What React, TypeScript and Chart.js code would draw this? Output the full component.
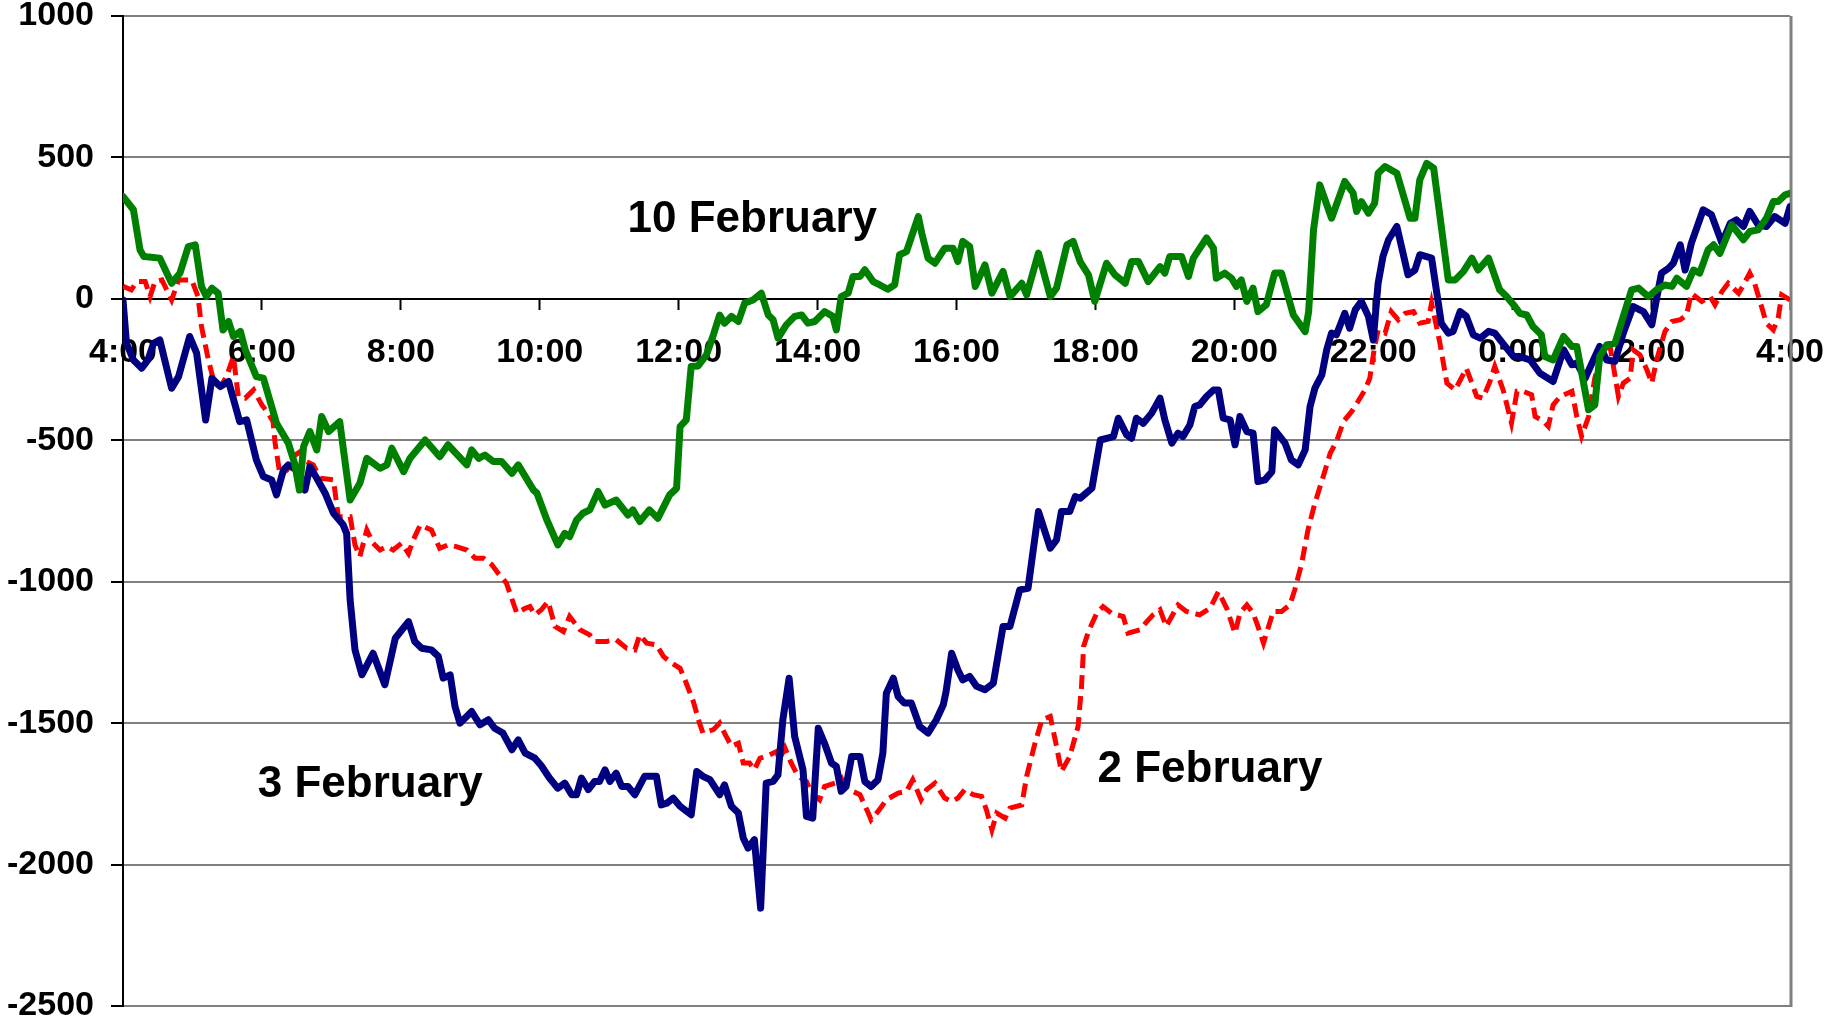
import React, { useEffect, useRef } from "react";
import { Chart, registerables } from "chart.js";

Chart.register(...registerables);

const xTickLabels = ["4:00", "6:00", "8:00", "10:00", "12:00", "14:00", "16:00", "18:00", "20:00", "22:00", "0:00", "2:00", "4:00"];
const seriesNames = ["10 February", "3 February", "2 February"];

// hours elapsed since 4:00
const feb10Times = [0, 0.15, 0.245, 0.3, 0.53, 0.7, 0.82, 0.94, 1.04, 1.13, 1.2, 1.28, 1.37, 1.44, 1.52, 1.59, 1.69, 1.76, 1.92, 2.02, 2.21, 2.38, 2.47, 2.54, 2.6, 2.69, 2.79, 2.86, 2.96, 3.12, 3.27, 3.41, 3.51, 3.7, 3.8, 3.87, 4.04, 4.13, 4.35, 4.56, 4.68, 4.95, 5.02, 5.12, 5.21, 5.33, 5.45, 5.6, 5.69, 5.91, 5.96, 6.1, 6.26, 6.36, 6.43, 6.53, 6.62, 6.72, 6.84, 6.94, 7.1, 7.27, 7.34, 7.44, 7.58, 7.7, 7.87, 7.97, 8.02, 8.11, 8.18, 8.28, 8.4, 8.5, 8.59, 8.66, 8.76, 8.86, 8.95, 9.07, 9.19, 9.29, 9.36, 9.43, 9.55, 9.67, 9.77, 9.86, 9.96, 10.1, 10.22, 10.27, 10.34, 10.44, 10.51, 10.61, 10.68, 10.8, 10.89, 11.01, 11.11, 11.18, 11.28, 11.45, 11.5, 11.59, 11.69, 11.83, 11.95, 12.02, 12.09, 12.19, 12.27, 12.41, 12.51, 12.67, 12.77, 12.94, 13.01, 13.18, 13.35, 13.44, 13.59, 13.68, 13.78, 13.9, 13.99, 14.16, 14.28, 14.43, 14.52, 14.62, 14.76, 14.93, 15.0, 15.07, 15.24, 15.34, 15.41, 15.6, 15.7, 15.74, 15.86, 15.96, 16.03, 16.1, 16.18, 16.27, 16.34, 16.46, 16.58, 16.68, 16.85, 17.02, 17.07, 17.14, 17.23, 17.4, 17.59, 17.71, 17.76, 17.83, 17.93, 18.02, 18.07, 18.17, 18.34, 18.53, 18.6, 18.67, 18.77, 18.87, 19.08, 19.18, 19.3, 19.42, 19.51, 19.66, 19.82, 19.92, 20.04, 20.11, 20.21, 20.3, 20.42, 20.47, 20.59, 20.74, 20.86, 20.93, 21.1, 21.19, 21.26, 21.36, 21.48, 21.6, 21.72, 21.82, 21.96, 22.08, 22.2, 22.3, 22.37, 22.51, 22.61, 22.7, 22.82, 22.9, 22.99, 23.16, 23.33, 23.42, 23.54, 23.66, 23.76, 23.83, 23.93, 24];
const feb10Values = [362, 315, 173, 150, 144, 55, 91, 185, 191, 44, 8, 38, 20, -110, -80, -133, -115, -180, -275, -280, -440, -510, -581, -676, -522, -469, -534, -416, -469, -434, -711, -652, -564, -599, -587, -528, -611, -564, -499, -558, -516, -587, -534, -564, -552, -575, -575, -617, -587, -676, -687, -780, -870, -829, -841, -782, -758, -746, -681, -729, -711, -764, -746, -787, -746, -776, -693, -670, -452, -428, -239, -237, -198, -127, -57, -86, -62, -80, -15, -4, 20, -57, -74, -139, -92, -62, -57, -86, -80, -45, -62, -110, 8, 20, 79, 79, 103, 61, 50, 34, 50, 156, 167, 291, 232, 144, 126, 179, 179, 132, 203, 185, 44, 120, 20, 97, 8, 55, 14, 162, 8, 38, 191, 203, 132, 85, -9, 126, 85, 55, 132, 132, 61, 114, 91, 150, 150, 79, 144, 215, 179, 73, 91, 73, 44, 67, -9, 38, -45, -21, 91, 91, -57, -116, -45, 244, 403, 285, 415, 374, 309, 344, 303, 338, 444, 468, 444, 285, 285, 421, 479, 462, 67, 67, 97, 144, 102, 144, 32, 8, -27, -51, -57, -98, -127, -204, -216, -133, -168, -168, -392, -375, -204, -163, -157, -62, 32, 38, 8, 32, 49, 44, 73, 44, 102, 91, 173, 191, 161, 262, 209, 238, 244, 285, 344, 344, 368, 373];

const feb3Times = [0, 0.05, 0.15, 0.27, 0.36, 0.44, 0.53, 0.7, 0.8, 0.96, 1.06, 1.19, 1.28, 1.4, 1.52, 1.68, 1.78, 1.92, 2.02, 2.14, 2.21, 2.31, 2.38, 2.5, 2.62, 2.69, 2.79, 2.91, 3.03, 3.17, 3.22, 3.27, 3.34, 3.44, 3.6, 3.77, 3.92, 4.11, 4.2, 4.3, 4.44, 4.54, 4.61, 4.71, 4.78, 4.85, 5.02, 5.14, 5.26, 5.35, 5.47, 5.6, 5.69, 5.79, 5.93, 6.02, 6.14, 6.26, 6.36, 6.46, 6.53, 6.6, 6.7, 6.79, 6.86, 6.94, 7.01, 7.1, 7.18, 7.27, 7.37, 7.51, 7.68, 7.75, 7.83, 7.92, 8.02, 8.18, 8.26, 8.35, 8.45, 8.59, 8.66, 8.76, 8.86, 8.93, 9.0, 9.09, 9.18, 9.26, 9.36, 9.43, 9.5, 9.59, 9.67, 9.79, 9.84, 9.93, 10.01, 10.1, 10.2, 10.27, 10.34, 10.41, 10.49, 10.61, 10.68, 10.77, 10.87, 10.94, 10.99, 11.09, 11.16, 11.25, 11.35, 11.47, 11.59, 11.71, 11.81, 11.85, 11.93, 12.02, 12.09, 12.19, 12.29, 12.41, 12.53, 12.67, 12.77, 12.91, 13.03, 13.18, 13.35, 13.44, 13.51, 13.63, 13.71, 13.78, 13.95, 14.07, 14.26, 14.33, 14.45, 14.52, 14.59, 14.69, 14.81, 14.93, 15.0, 15.1, 15.19, 15.26, 15.36, 15.43, 15.5, 15.6, 15.7, 15.77, 15.84, 15.94, 16.01, 16.08, 16.18, 16.27, 16.34, 16.44, 16.54, 16.58, 16.73, 16.82, 16.92, 17.02, 17.09, 17.16, 17.26, 17.33, 17.4, 17.47, 17.59, 17.66, 17.74, 17.83, 17.93, 18.0, 18.07, 18.14, 18.22, 18.34, 18.5, 18.6, 18.67, 18.84, 18.98, 19.08, 19.15, 19.25, 19.34, 19.44, 19.54, 19.66, 19.75, 19.9, 20.02, 20.11, 20.26, 20.4, 20.59, 20.74, 20.86, 20.93, 21.05, 21.17, 21.26, 21.36, 21.48, 21.6, 21.74, 21.89, 22.01, 22.08, 22.15, 22.25, 22.32, 22.42, 22.49, 22.58, 22.75, 22.87, 23.02, 23.14, 23.23, 23.33, 23.42, 23.54, 23.66, 23.78, 23.93, 24];
const feb3Values = [-4, -157, -216, -245, -216, -157, -145, -316, -275, -133, -192, -428, -281, -310, -292, -434, -428, -569, -628, -640, -693, -605, -587, -605, -676, -593, -634, -687, -758, -799, -830, -1064, -1241, -1329, -1253, -1364, -1200, -1141, -1211, -1235, -1241, -1264, -1341, -1329, -1441, -1500, -1459, -1506, -1488, -1518, -1535, -1594, -1559, -1606, -1624, -1650, -1694, -1730, -1712, -1753, -1753, -1694, -1735, -1706, -1706, -1665, -1706, -1677, -1724, -1724, -1753, -1688, -1688, -1789, -1783, -1765, -1794, -1824, -1671, -1688, -1700, -1753, -1718, -1794, -1818, -1906, -1942, -1912, -2154, -1712, -1706, -1683, -1488, -1341, -1547, -1665, -1830, -1836, -1518, -1571, -1641, -1653, -1741, -1724, -1618, -1618, -1706, -1724, -1700, -1606, -1394, -1341, -1406, -1429, -1429, -1512, -1535, -1488, -1435, -1388, -1253, -1312, -1347, -1335, -1370, -1382, -1359, -1158, -1158, -1029, -1023, -752, -881, -852, -752, -752, -699, -705, -669, -499, -487, -422, -481, -493, -422, -440, -404, -351, -428, -510, -475, -487, -446, -381, -375, -345, -322, -322, -422, -428, -516, -416, -469, -475, -646, -640, -611, -463, -510, -569, -587, -534, -381, -316, -269, -180, -121, -127, -51, -104, -39, -9, -62, -145, 55, 150, 209, 256, 85, 102, 156, 144, -86, -121, -115, -45, -62, -127, -139, -115, -121, -168, -204, -204, -216, -263, -292, -180, -233, -227, -281, -216, -168, -216, -221, -121, -27, -45, -92, 2, 91, 108, 126, 191, 102, 197, 315, 297, 197, 267, 279, 256, 309, 262, 256, 291, 267, 326];

const feb2Times = [0, 0.12, 0.2, 0.32, 0.39, 0.46, 0.56, 0.7, 0.8, 0.99, 1.08, 1.13, 1.23, 1.32, 1.42, 1.49, 1.59, 1.66, 1.76, 1.88, 2.0, 2.09, 2.16, 2.19, 2.26, 2.36, 2.45, 2.55, 2.64, 2.74, 2.84, 3.03, 3.1, 3.27, 3.34, 3.41, 3.51, 3.6, 3.7, 3.8, 3.89, 4.01, 4.11, 4.18, 4.28, 4.44, 4.56, 4.68, 4.8, 4.95, 5.07, 5.19, 5.31, 5.4, 5.52, 5.62, 5.67, 5.79, 5.86, 5.93, 6.02, 6.12, 6.22, 6.34, 6.43, 6.58, 6.72, 6.79, 6.96, 7.1, 7.25, 7.37, 7.44, 7.54, 7.68, 7.78, 7.9, 8.02, 8.11, 8.21, 8.3, 8.35, 8.5, 8.59, 8.66, 8.76, 8.86, 8.93, 9.02, 9.09, 9.17, 9.31, 9.41, 9.45, 9.53, 9.62, 9.72, 9.84, 9.91, 10.03, 10.1, 10.25, 10.34, 10.41, 10.61, 10.73, 10.77, 10.89, 10.99, 11.16, 11.28, 11.37, 11.49, 11.57, 11.69, 11.83, 11.93, 12.02, 12.12, 12.24, 12.36, 12.43, 12.51, 12.58, 12.7, 12.77, 12.94, 13.01, 13.13, 13.23, 13.35, 13.44, 13.51, 13.63, 13.75, 13.8, 13.83, 13.9, 14.02, 14.11, 14.23, 14.4, 14.47, 14.64, 14.74, 14.83, 14.93, 15.02, 15.19, 15.31, 15.5, 15.65, 15.77, 15.89, 16.01, 16.08, 16.18, 16.27, 16.34, 16.42, 16.56, 16.68, 16.8, 16.87, 16.97, 17.06, 17.16, 17.28, 17.38, 17.47, 17.57, 17.69, 17.78, 17.88, 17.95, 18.02, 18.07, 18.17, 18.26, 18.36, 18.46, 18.58, 18.67, 18.79, 18.84, 18.96, 19.06, 19.18, 19.34, 19.49, 19.58, 19.68, 19.75, 19.87, 19.99, 20.07, 20.16, 20.28, 20.33, 20.45, 20.52, 20.59, 20.69, 20.86, 20.93, 21.0, 21.1, 21.19, 21.29, 21.41, 21.53, 21.6, 21.7, 21.74, 21.84, 21.94, 22.01, 22.08, 22.2, 22.3, 22.42, 22.51, 22.58, 22.73, 22.85, 22.92, 23.02, 23.11, 23.26, 23.33, 23.42, 23.49, 23.59, 23.66, 23.76, 23.83, 23.88, 24];
const feb2Values = [44, 32, 61, 61, 8, 61, 67, -4, 67, 67, 8, -98, -216, -304, -304, -275, -204, -345, -351, -322, -375, -404, -434, -510, -622, -605, -558, -540, -575, -587, -634, -640, -770, -770, -870, -911, -817, -864, -888, -876, -888, -864, -900, -852, -799, -817, -882, -870, -876, -888, -917, -917, -940, -970, -1005, -1076, -1111, -1094, -1088, -1117, -1100, -1070, -1158, -1176, -1123, -1170, -1188, -1211, -1211, -1205, -1235, -1241, -1188, -1217, -1223, -1264, -1288, -1306, -1359, -1423, -1500, -1535, -1523, -1500, -1535, -1582, -1571, -1641, -1641, -1665, -1624, -1612, -1600, -1630, -1588, -1641, -1688, -1706, -1747, -1771, -1724, -1712, -1694, -1730, -1753, -1818, -1842, -1806, -1771, -1747, -1741, -1700, -1771, -1735, -1712, -1765, -1777, -1765, -1735, -1753, -1759, -1806, -1877, -1818, -1836, -1800, -1789, -1688, -1571, -1488, -1476, -1582, -1671, -1618, -1512, -1370, -1229, -1176, -1111, -1088, -1111, -1123, -1182, -1170, -1141, -1117, -1099, -1158, -1082, -1105, -1117, -1094, -1035, -1094, -1182, -1111, -1082, -1111, -1158, -1217, -1105, -1105, -1082, -1029, -935, -817, -722, -628, -546, -505, -434, -398, -363, -322, -281, -169, -110, -121, -45, -74, -51, -45, -86, -80, -15, -157, -298, -322, -245, -345, -351, -292, -239, -322, -439, -327, -327, -339, -416, -433, -451, -375, -345, -327, -416, -486, -416, -280, -192, -168, -345, -298, -280, -180, -198, -251, -298, -216, -115, -80, -74, -57, 20, -9, 8, -21, 26, 55, 20, 49, 91, 55, -27, -86, -110, -68, 14, -4];

const FONT = '"Liberation Sans", Arial, Helvetica, sans-serif';

function toPoints(times: number[], values: number[]) {
  return times.map((t, i) => ({ x: t, y: values[i] }));
}

const seriesLabelPlugin = {
  id: "seriesLabels",
  afterDatasetsDraw(chart: any) {
    const { ctx, scales } = chart;
    const x = scales.x;
    const y = scales.y;
    const anchors = [
      [9.06, 237],
      [3.56, -1760],
      [15.65, -1707],
    ];
    ctx.save();
    ctx.font = `bold 44px ${FONT}`;
    ctx.fillStyle = "#000000";
    ctx.textAlign = "center";
    ctx.textBaseline = "alphabetic";
    seriesNames.forEach((name, i) => {
      ctx.fillText(name, x.getPixelForValue(anchors[i][0]), y.getPixelForValue(anchors[i][1]));
    });
    ctx.restore();
  },
};

const frameBorderPlugin = {
  id: "frameBorder",
  beforeDatasetsDraw(chart: any) {
    const { ctx, chartArea } = chart;
    ctx.save();
    ctx.strokeStyle = "#808080";
    ctx.lineWidth = 3;
    ctx.beginPath();
    ctx.moveTo(chartArea.right + 1, chartArea.top);
    ctx.lineTo(chartArea.right + 1, chartArea.bottom + 1);
    ctx.stroke();
    ctx.restore();
  },
};

export default function App() {
  const ref = useRef<HTMLCanvasElement>(null);

  useEffect(() => {
    document.body.style.margin = "0";
    const canvas = ref.current;
    if (!canvas) return;
    const chart = new Chart(canvas, {
      type: "line",
      data: {
        datasets: [
          {
            label: seriesNames[0],
            data: toPoints(feb10Times, feb10Values),
            borderColor: "#008000",
            borderWidth: 7,
            pointRadius: 0,
            tension: 0,
            borderJoinStyle: "round",
            borderCapStyle: "round",
            fill: false,
          },
          {
            label: seriesNames[1],
            data: toPoints(feb3Times, feb3Values),
            borderColor: "#000080",
            borderWidth: 7,
            pointRadius: 0,
            tension: 0,
            borderJoinStyle: "round",
            borderCapStyle: "round",
            fill: false,
          },
          {
            label: seriesNames[2],
            data: toPoints(feb2Times, feb2Values),
            borderColor: "#FF0000",
            borderWidth: 5,
            borderDash: [14, 7],
            pointRadius: 0,
            tension: 0,
            fill: false,
          },
        ],
      },
      options: {
        animation: false,
        responsive: true,
        maintainAspectRatio: false,
        layout: { padding: { top: 16, bottom: 16, left: 0, right: 37 } },
        plugins: {
          legend: { display: false },
          tooltip: { enabled: false },
        },
        scales: {
          x: {
            type: "linear",
            min: 0,
            max: 24,
            position: { y: 0 } as any,
            ticks: {
              stepSize: 2,
              autoSkip: false,
              maxRotation: 0,
              minRotation: 0,
              padding: 23,
              color: "#000000",
              font: { family: FONT, size: 34, weight: "bold" },
              callback: (_v: any, i: number) => xTickLabels[i],
            },
            grid: {
              drawOnChartArea: false,
              drawTicks: true,
              tickLength: 10,
              tickColor: "#000000",
              tickWidth: 2,
            },
            border: { display: true, color: "#000000", width: 2 },
            afterFit: (s: any) => {
              s.paddingLeft = 0;
              s.paddingRight = 0;
            },
          },
          y: {
            type: "linear",
            min: -2500,
            max: 1000,
            ticks: {
              stepSize: 500,
              padding: 17,
              color: "#000000",
              font: { family: FONT, size: 34, weight: "bold" },
              callback: (v: any) => String(v),
            },
            grid: {
              color: (c: any) => (c.tick && c.tick.value === 0 ? "#000000" : "#808080"),
              lineWidth: 2,
              tickLength: 12,
              tickColor: "#000000",
              tickWidth: 2,
            },
            border: { display: true, color: "#000000", width: 2 },
            afterFit: (s: any) => {
              s.width = 123;
              s.paddingTop = 0;
              s.paddingBottom = 0;
            },
          },
        },
      },
      plugins: [frameBorderPlugin, seriesLabelPlugin],
    });
    return () => chart.destroy();
  }, []);

  return (
    <div style={{ position: "relative", width: 1827, height: 1022 }}>
      <canvas ref={ref} />
    </div>
  );
}
